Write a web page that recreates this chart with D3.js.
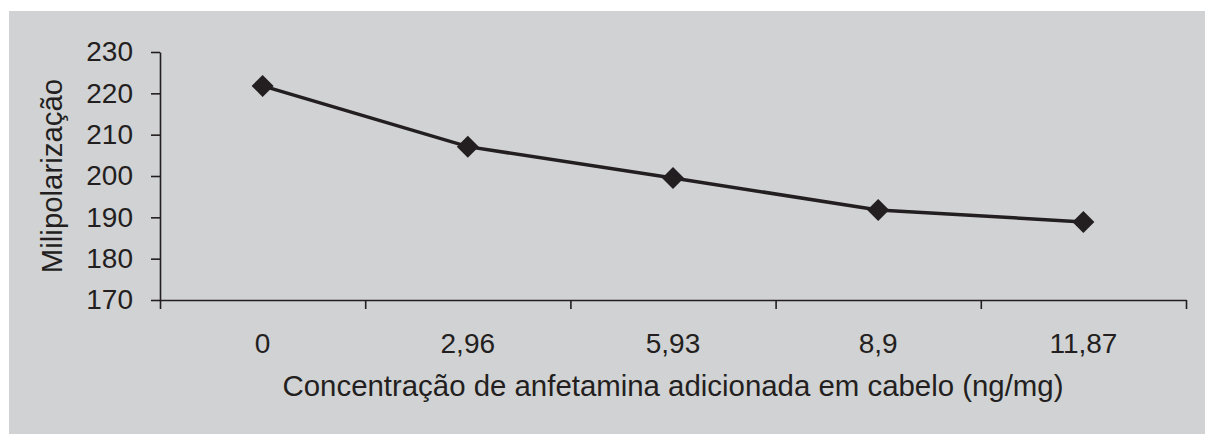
<!DOCTYPE html>
<html>
<head>
<meta charset="utf-8">
<script src="https://cdn.jsdelivr.net/npm/d3@7"></script>
<style>
  body { margin: 0; background: #fff; }
  text { font-family: "Liberation Sans", Arial, sans-serif; fill: #231f20; }
</style>
</head>
<body>
<svg id="chart" width="1205" height="435"></svg>
<script>
const categories = ["0", "2,96", "5,93", "8,9", "11,87"];
const values = [221.8, 207.1, 199.5, 191.8, 188.9];
const yTicks = [170, 180, 190, 200, 210, 220, 230];

const ink = "#231f20";
const svg = d3.select("#chart");

// grey panel
svg.append("rect")
  .attr("x", 9).attr("y", 11)
  .attr("width", 1196).attr("height", 423)
  .attr("fill", "#d1d2d4");

const plot = { left: 160, right: 1186, top: 52, bottom: 300 };

const x = d3.scaleBand()
  .domain(categories)
  .range([plot.left, plot.right])
  .padding(0);

const y = d3.scaleLinear()
  .domain([170, 230])
  .range([plot.bottom, plot.top]);

// y axis
const yAxis = svg.append("g")
  .attr("transform", `translate(${plot.left},0)`)
  .call(d3.axisLeft(y).tickValues(yTicks).tickSize(9).tickPadding(18).tickSizeOuter(0));
yAxis.selectAll("text").attr("font-size", 28).attr("fill", ink);
yAxis.selectAll("line, path").attr("stroke", ink).attr("stroke-width", 1.6);

// x axis: ticks on category boundaries
const edges = categories.map((c) => x(c)).concat([x.range()[1]]);
const xEdge = d3.scaleLinear().domain([plot.left, plot.right]).range([plot.left, plot.right]);
const xAxis = svg.append("g")
  .attr("transform", `translate(0,${plot.bottom})`)
  .call(d3.axisBottom(xEdge).tickValues(edges).tickSize(9).tickSizeOuter(0).tickFormat(""));
xAxis.selectAll("line, path").attr("stroke", ink).attr("stroke-width", 1.6);

// x labels at band centres
svg.append("g")
  .selectAll("text")
  .data(categories)
  .join("text")
  .attr("x", (d) => x(d) + x.bandwidth() / 2)
  .attr("y", 353)
  .attr("text-anchor", "middle")
  .attr("font-size", 28)
  .text((d) => d);

// axis titles
svg.append("text")
  .attr("x", 673)
  .attr("y", 396)
  .attr("text-anchor", "middle")
  .attr("font-size", 29.4)
  .text("Concentração de anfetamina adicionada em cabelo (ng/mg)");

svg.append("text")
  .attr("transform", "translate(62,176) rotate(-90)")
  .attr("text-anchor", "middle")
  .attr("font-size", 29.4)
  .text("Milipolarização");

// line
const line = d3.line()
  .x((d, i) => x(categories[i]) + x.bandwidth() / 2)
  .y((d) => y(d));

svg.append("path")
  .datum(values)
  .attr("fill", "none")
  .attr("stroke", ink)
  .attr("stroke-width", 3.5)
  .attr("d", line);

// diamond markers
const diamond = d3.symbol().type(d3.symbolSquare).size(242);
svg.append("g")
  .selectAll("path")
  .data(values)
  .join("path")
  .attr("transform", (d, i) => `translate(${x(categories[i]) + x.bandwidth() / 2},${y(d)}) rotate(45)`)
  .attr("d", diamond)
  .attr("fill", ink);
</script>
</body>
</html>
